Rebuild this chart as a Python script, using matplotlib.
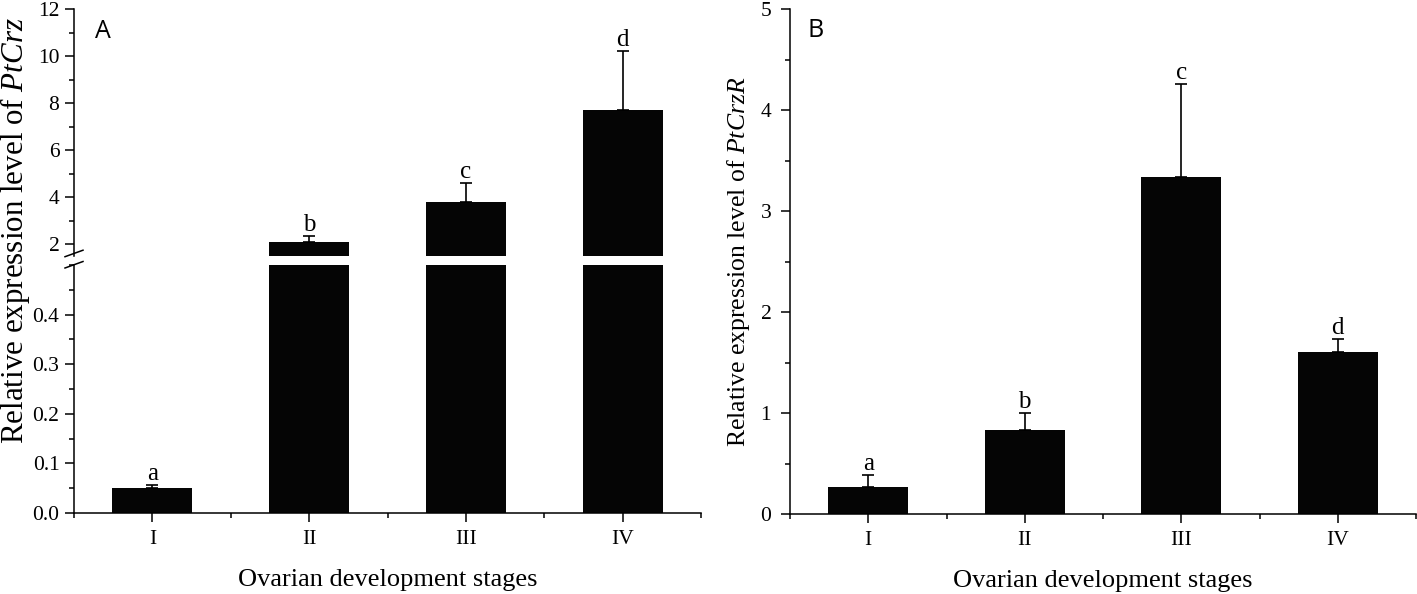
import matplotlib
matplotlib.use("Agg")
import matplotlib.pyplot as plt
from matplotlib.ticker import MultipleLocator, FixedLocator, FormatStrFormatter
from matplotlib.lines import Line2D
import numpy as np

plt.rcParams['font.family'] = ['Liberation Serif', 'DejaVu Serif']
plt.rcParams['mathtext.fontset'] = 'custom'
plt.rcParams['mathtext.rm'] = 'Liberation Serif'
plt.rcParams['mathtext.it'] = 'Liberation Serif:italic'

# ---- data ----
stages = ["I", "II", "III", "IV"]
crz_mean = [0.050, 2.11, 3.81, 7.72]
crz_err = [0.007, 0.26, 0.80, 2.49]
crz_letters = ["a", "b", "c", "d"]
crzr_mean = [0.264, 0.83, 3.34, 1.60]
crzr_err = [0.122, 0.17, 0.92, 0.135]
crzr_letters = ["a", "b", "c", "d"]

W, H = 1417, 594
fig = plt.figure(figsize=(W / 100, H / 100), dpi=100)

def fx(px):
    return px / W

def fy(py):
    return 1 - py / H

BAR_COLOR = "#050505"
LW = 1.1
TICK_FS = 15.5
LETTER_FS = 18
XLABEL_FS = 19
x = np.arange(1, len(stages) + 1)
bw = 0.51

def style_ax(ax):
    for s in ["top", "right"]:
        ax.spines[s].set_visible(False)
    for s in ["left", "bottom"]:
        ax.spines[s].set_linewidth(LW)
    ax.tick_params(which="major", direction="out", length=6.5, width=LW,
                   labelsize=TICK_FS, pad=4)
    ax.tick_params(which="minor", direction="out", length=3.5, width=LW)

# ---- left panel: broken axis ----
axL_lo = fig.add_axes([fx(74), fy(513), fx(701) - fx(74), fy(265) - fy(513)])
axL_hi = fig.add_axes([fx(74), fy(255.7), fx(701) - fx(74), fy(9) - fy(255.7)])

for ax in (axL_lo, axL_hi):
    style_ax(ax)
    ax.bar(x, crz_mean, width=bw, color=BAR_COLOR, zorder=2)
    ax.set_xlim(0.5, 4.5)

axL_lo.set_ylim(0, 0.5)
axL_lo.yaxis.set_major_locator(FixedLocator([0.0, 0.1, 0.2, 0.3, 0.4]))
axL_lo.yaxis.set_minor_locator(MultipleLocator(0.05))
axL_lo.yaxis.set_major_formatter(FormatStrFormatter("%.1f"))
axL_lo.set_xticks(x)
axL_lo.set_xticklabels(stages)
axL_lo.xaxis.set_minor_locator(FixedLocator(np.arange(0.5, 4.51, 1.0)))
axL_lo.tick_params(axis="x", which="major", pad=6)
axL_lo.set_xlabel("Ovarian development stages", fontsize=XLABEL_FS, labelpad=14)

axL_hi.set_ylim(1.515, 12)
axL_hi.yaxis.set_major_locator(FixedLocator([2, 4, 6, 8, 10, 12]))
axL_hi.yaxis.set_minor_locator(MultipleLocator(1))
axL_hi.spines["bottom"].set_visible(False)
axL_hi.tick_params(axis="x", which="both", bottom=False, labelbottom=False)
axL_hi.patch.set_alpha(0)

# error bars (upper only) and letters
for i, (m, e, lt) in enumerate(zip(crz_mean, crz_err, crz_letters)):
    ax = axL_lo if m + e < 0.5 else axL_hi
    ax.errorbar(x[i], m, yerr=[[0], [e]], fmt="none", ecolor="black",
                elinewidth=1.2, capsize=4, capthick=1.2, zorder=3)
    ax.annotate(lt, (x[i], m + e), xytext=(0, 3.5), textcoords="offset points",
                ha="center", va="baseline", fontsize=LETTER_FS)

# break marks
for y0 in (256.7, 268):
    fig.add_artist(Line2D([fx(65), fx(83)], [fy(y0), fy(y0 - 6.5)],
                          color="black", lw=LW, transform=fig.transFigure))

fig.text(fx(15.5), fy(231), "Relative expression level of $\\it{PtCrz}$",
         rotation=90, ha="center", va="center", fontsize=22.3)
fig.text(fx(95), fy(38), "A", fontsize=18, family="Open Sans",
         ha="left", va="baseline")

# ---- right panel ----
axR = fig.add_axes([fx(790), fy(514), fx(1416) - fx(790), fy(9) - fy(514)])
style_ax(axR)
axR.bar(x, crzr_mean, width=bw, color=BAR_COLOR, zorder=2)
axR.errorbar(x, crzr_mean, yerr=[np.zeros(len(x)), crzr_err], fmt="none",
             ecolor="black", elinewidth=1.2, capsize=4, capthick=1.2, zorder=3)
for i, (m, e, lt) in enumerate(zip(crzr_mean, crzr_err, crzr_letters)):
    axR.annotate(lt, (x[i], m + e), xytext=(0, 3.5), textcoords="offset points",
                 ha="center", va="baseline", fontsize=LETTER_FS)
axR.set_xlim(0.5, 4.5)
axR.set_ylim(0, 5)
axR.yaxis.set_major_locator(MultipleLocator(1))
axR.yaxis.set_minor_locator(MultipleLocator(0.5))
axR.set_xticks(x)
axR.set_xticklabels(stages)
axR.xaxis.set_minor_locator(FixedLocator(np.arange(0.5, 4.51, 1.0)))
axR.tick_params(axis="x", which="major", pad=6)
axR.tick_params(axis="y", which="major", pad=7)
axR.set_xlabel("Ovarian development stages", fontsize=XLABEL_FS, labelpad=14)
fig.text(fx(738), fy(262), "Relative expression level of $\\it{PtCrzR}$",
         rotation=90, ha="center", va="center", fontsize=18.5)
fig.text(fx(808), fy(37), "B", fontsize=18, family="Open Sans",
         ha="left", va="baseline")

fig.savefig("out.png", dpi=100)
